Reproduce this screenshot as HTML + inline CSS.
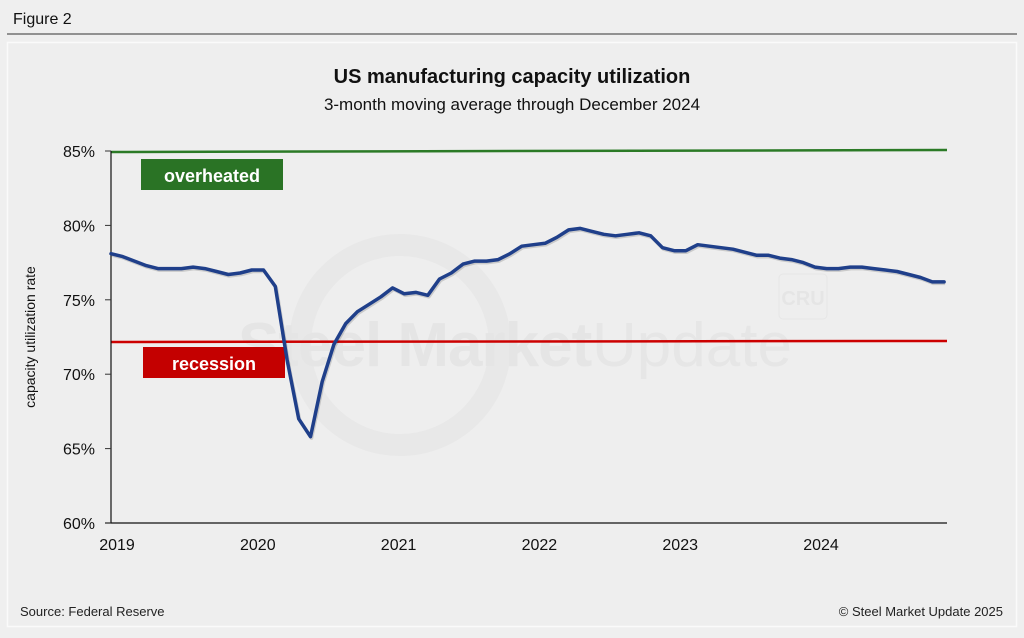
<!DOCTYPE html>
<html><head><meta charset="utf-8"><style>
html,body{margin:0;padding:0;background:#efefef;}
body{width:1024px;height:633px;overflow:hidden;font-family:"Liberation Sans",Arial,sans-serif;}
</style></head><body>
<svg width="1024" height="633" viewBox="0 0 1024 633" xmlns="http://www.w3.org/2000/svg" font-family="Liberation Sans, Arial, sans-serif">
<rect x="0" y="0" width="1024" height="633" fill="#efefef"/>
<text x="13" y="24" font-size="16" fill="#111">Figure 2</text>
<line x1="7" y1="34" x2="1017" y2="34" stroke="#333" stroke-width="1"/>
<rect x="7.5" y="42.5" width="1009" height="584" fill="#eeeeee" stroke="#fafafa" stroke-width="1.5"/>
<text x="512" y="83" text-anchor="middle" font-size="20" font-weight="bold" fill="#111">US manufacturing capacity utilization</text>
<text x="512" y="110" text-anchor="middle" font-size="17" fill="#111">3-month moving average through December 2024</text>
<g fill="#e5e5e5">
<circle cx="400" cy="345" r="100" fill="none" stroke="#e8e8e8" stroke-width="22"/>
<text x="238" y="366" font-size="62" font-weight="bold" letter-spacing="-1">Steel Market</text>
<text x="592" y="366" font-size="62" fill="#e6e6e6">Update</text>
<rect x="779" y="274" width="48" height="45" rx="4" fill="none" stroke="#e6e6e6"/>
<text x="803" y="305" font-size="20" font-weight="bold" text-anchor="middle">CRU</text>
</g>
<g id="plot"></g>
<text transform="translate(35,337) rotate(-90)" text-anchor="middle" font-size="14" fill="#111">capacity utilization rate</text>
<text x="20" y="616" font-size="13" fill="#222">Source: Federal Reserve</text>
<text x="1003" y="616" text-anchor="end" font-size="13" fill="#222">© Steel Market Update 2025</text>
</svg>
<script>
const yTicks=[60,65,70,75,80,85];
const yTickLabels=["60%","65%","70%","75%","80%","85%"];
const years=[2019,2020,2021,2022,2023,2024];
const overheatedLevel=85;
const recessionLevel=72.2;
const utilization=[78.1,77.9,77.6,77.3,77.1,77.1,77.1,77.2,77.1,76.9,76.7,76.8,
77.0,77.0,75.9,71.0,67.0,65.8,69.5,72.0,73.4,74.2,74.7,75.2,
75.8,75.4,75.5,75.3,76.4,76.8,77.4,77.6,77.6,77.7,78.1,78.6,
78.7,78.8,79.2,79.7,79.8,79.6,79.4,79.3,79.4,79.5,79.3,78.5,
78.3,78.3,78.7,78.6,78.5,78.4,78.2,78.0,78.0,77.8,77.7,77.5,
77.2,77.1,77.1,77.2,77.2,77.1,77.0,76.9,76.7,76.5,76.2,76.2];
const NS="http://www.w3.org/2000/svg";
const g=document.getElementById('plot');
const x0=111,x1=947,yTop=151,yBot=523;
function ys(v){return yBot-(v-60)/(85-60)*(yBot-yTop);}
function xm(m){return x0+m*(140.8/12);}
function mk(t,a){const e=document.createElementNS(NS,t);for(const k in a)e.setAttribute(k,a[k]);g.appendChild(e);return e;}
let l=mk('line',{x1:x0,x2:x1,y1:ys(overheatedLevel)+1,y2:ys(overheatedLevel)-1,stroke:'#2b7a26','stroke-width':2.5});


l=mk('line',{x1:x0,x2:x1,y1:ys(recessionLevel)+0.5,y2:ys(recessionLevel)-0.5,stroke:'#cc0000','stroke-width':2.5});


let r=mk('rect',{x:141,y:159,width:142,height:31,fill:'#2a7325'});


let t=mk('text',{x:212,y:182,'text-anchor':'middle','font-size':18,'font-weight':'bold',fill:'#fff'});t.textContent='overheated';


r=mk('rect',{x:143,y:347,width:142,height:31,fill:'#c40000'});


t=mk('text',{x:214,y:370,'text-anchor':'middle','font-size':18,'font-weight':'bold',fill:'#fff'});t.textContent='recession';


l=mk('line',{x1:x0,x2:x0,y1:yTop,y2:yBot,stroke:'#111','stroke-width':1.2});


l=mk('line',{x1:x0-6,x2:x1,y1:yBot,y2:yBot,stroke:'#111','stroke-width':1.2});


yTicks.forEach((v,i)=>{
 const tk=mk('line',{x1:x0-6,x2:x0,y1:ys(v),y2:ys(v),stroke:'#333','stroke-width':1});
 
 
 const tl=mk('text',{x:95,y:ys(v)+6,'text-anchor':'end','font-size':16,fill:'#111'});tl.textContent=yTickLabels[i];
 
 
});
years.forEach((yr,i)=>{
 const tl=mk('text',{x:xm(i*12)+6,y:550,'text-anchor':'middle','font-size':16,fill:'#111'});tl.textContent=String(yr);
 
 
});
const pts=utilization.map((v,i)=>xm(i).toFixed(1)+','+ys(v).toFixed(1)).join(' ');
const sh=mk('polyline',{points:pts,fill:'none',stroke:'rgba(0,0,0,0.15)','stroke-width':3.5,transform:'translate(1,1.5)','stroke-linejoin':'round'});


const pl=mk('polyline',{points:pts,fill:'none',stroke:'#1f3f8a','stroke-width':3.5,'stroke-linejoin':'round','stroke-linecap':'round'});


</script>
</body></html>
